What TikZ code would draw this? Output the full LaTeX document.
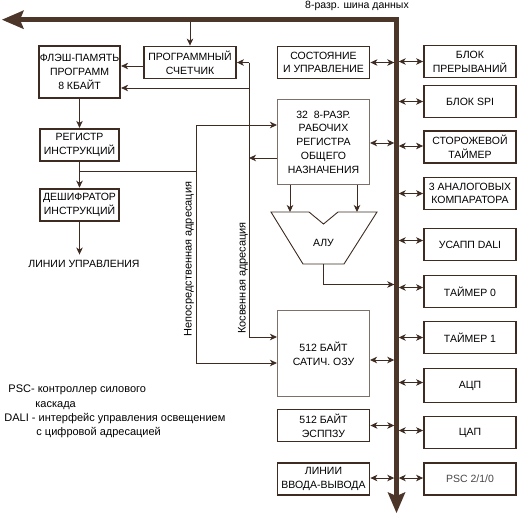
\documentclass[tikz,border=0pt]{standalone}
\usepackage{fontspec}
\setmainfont{Liberation Sans}
\usepackage{tikz}
\usetikzlibrary{arrows,arrows.meta,positioning,calc}
\definecolor{wire}{RGB}{62,44,34}
\definecolor{busline}{RGB}{76,54,42}
\definecolor{thinframe}{RGB}{125,112,106}
\tikzset{
  every picture/.style = {
    x = 1pt,
    y = -1pt,
    line width = 0.9pt,
    color = wire,
    text = black,
    >={Stealth[length=7pt,width=6.5pt,inset=2pt]},
    font = \fontsize{10.5}{13.7}\selectfont
  }
  ,
  block/.style = {
    rectangle,
    draw = wire,
    line width = 1.8pt,
    align = center,
    inner sep = 1pt,
    minimum width = 92pt,
    minimum height = 32pt
  }
  , % frame of the register file and of the ram
  thinblock/.style = {
    block,
    draw = thinframe,
    line width = 1.1pt
  }
  , % left column
  leftblock/.style = {
    block,
    minimum width = 79pt
  }
  , % the 8-bit data bus
  bus/.style = {
    draw = busline,
    line width = 4.5pt,
    line join = miter
  }
  ,
  label-vert/.style = {
    rotate = 90,
    inner sep = 0pt,
    font = \fontsize{11}{13}\selectfont
  }
}

\begin{document}
\begin{tikzpicture}
    \useasboundingbox (0,0) rectangle (522,517);

    % bus
    \coordinate (busL) at (394.3,0);
    \coordinate (busR) at (398.7,0);
    \coordinate (busT) at (0,22);
    \draw[bus, {Stealth[length=22pt,width=19pt,inset=4pt,line width=0pt]}-{Stealth[length=21pt,width=18pt,inset=4pt,line width=0pt]}]
        (2,19.7) -- (396.5,19.7) -- (396.5,513);
    \node (busname) at (357,6) {8-разр. шина данных};

    % left column
    \node [leftblock, minimum height = 52pt] (flash) at (79.5,72) {ФЛЭШ-ПАМЯТЬ\\ПРОГРАММ\\8 КБАЙТ};
    \node [leftblock, below = 29pt of flash] (ri) {РЕГИСТР\\ИНСТРУКЦИЙ};
    \node [leftblock, below = 26pt of ri] (dec) {ДЕШИФРАТОР\\ИНСТРУКЦИЙ};
    \node (lines) at (84,264) {ЛИНИИ УПРАВЛЕНИЯ};
    \node [block] (cnt) at (190,62.5) {ПРОГРАММНЫЙ\\СЧЕТЧИК};

    % middle column
    \node [block] (stat) at (323.5,62.5) {СОСТОЯНИЕ\\И УПРАВЛЕНИЕ};
    \node [thinblock, minimum height = 85pt] (rf) at (323.5,142) {32~ 8-РАЗР.\\РАБОЧИХ\\РЕГИСТРА\\ОБЩЕГО\\НАЗНАЧЕНИЯ};
    \node [thinblock, minimum height = 86pt] (ram) at (323.5,353.5) {512 БАЙТ\\САТИЧ. ОЗУ};
    \node [block] (eep) at (323.5,425.5) {512 БАЙТ\\ЭСППЗУ};
    \node [block] (io) at (323.5,479) {ЛИНИИ\\ВВОДА-ВЫВОДА};

    % alu
    \draw (271,212) -- (309,212) -- (323.5,224) -- (338,212) -- (377,212)
        -- (344,264) -- (303,264) -- cycle;
    \node (alu) at (323.5,243) {АЛУ};

    % right column
    \node [block] (irq) at (470,61.5) {БЛОК\\ПРЕРЫВАНИЙ};
    \node [block] (spi) at (470,101.5) {БЛОК SPI};
    \node [block] (wdt) at (470,147) {СТОРОЖЕВОЙ\\ТАЙМЕР};
    \node [block] (acmp) at (470,193.5) {3 АНАЛОГОВЫХ\\КОМПАРАТОРА};
    \node [block] (dali) at (470,244.5) {УСАПП DALI};
    \node [block] (tm0) at (470,291.5) {ТАЙМЕР 0};
    \node [block] (tm1) at (470,337.5) {ТАЙМЕР 1};
    \node [block, minimum height = 34pt] (adc) at (470,385.5) {АЦП};
    \node [block] (dac) at (470,432.5) {ЦАП};
    \node [block, text = black!72] (psc) at (470,479) {PSC 2/1/0};

    % program path
    \draw[->] (cnt.north |- busT) -- (cnt.north);
    \coordinate (cntout) at ([yshift=-3.5pt]cnt.west);
    \draw[->] (cntout) -- (cntout -| flash.east);
    \draw[->] (flash) -- (ri);
    \draw[->] (ri) -- (dec);
    \draw[->] (dec.south) -- ([yshift=2pt]dec.south |- lines.north);

    % indirect addressing
    \coordinate (kos) at (249,0);
    \coordinate (rfout) at ([yshift=-16pt]rf.west);
    \coordinate (flin) at ([yshift=-16pt]flash.east);
    \coordinate (ramk) at ([yshift=16.5pt]ram.west);
    \draw[->] (rfout) -- (rfout -| kos);
    \draw[->] (cnt.east -| kos) -- (cnt.east);
    \draw[->] (flin -| kos) -- (flin);
    \draw[->] (cnt.east -| kos) |- (ramk);
    \node [label-vert] (kosl) at (243,278) {Косвенная адресация};

    % direct addressing
    \coordinate (nep) at (196,0);
    \coordinate (br) at ($(ri.south)!0.36!(dec.north)$);
    \coordinate (rfin) at ([yshift=17pt]rf.west);
    \coordinate (ramn) at ([yshift=-9.5pt]ram.west);
    \draw[->] (br) -| (nep |- rfin) -- (rfin);
    \draw[->] (br -| nep) |- (ramn);
    \node [label-vert] (nepl) at (189,259) {Непосредственная адресация};

    % register file to alu and alu to bus
    \coordinate (alutop) at (0,212);
    \coordinate (rfa) at ([xshift=-33.5pt]rf.south);
    \coordinate (rfb) at ([xshift=33.5pt]rf.south);
    \draw[->] (rfa) -- (rfa |- alutop);
    \draw[->] (rfb) -- (rfb |- alutop);
    \coordinate (aluout) at (323.5,264);
    \coordinate (alubus) at (0,284.5);
    \draw[->] (aluout) |- (alubus -| busL);

    % bus links
    \foreach \n/\d in {stat/0,rf/-1,ram/-6.5,eep/0,io/1}
    {
        \coordinate (p) at ([yshift=\d pt]\n.east);
        \draw[<->] (p) -- (p -| busL);
    }
    \foreach \n/\d in {irq/0,spi/0,wdt/1,acmp/0,dali/4,tm0/4,tm1/0,adc/3,dac/2,psc/1}
    {
        \coordinate (p) at ([yshift=\d pt]\n.west);
        \draw[<->] (p -| busR) -- (p);
    }

    % legend
    \node [align = left, anchor = west, inner sep = 0pt, font = \fontsize{11}{14.3}\selectfont] (legend) at (4,411.5)
        {\hspace*{4pt}PSC- контроллер силового\\
         \hspace*{31pt}каскада\\
         DALI - интерфейс управления освещением\\
         \hspace*{32pt}с цифровой адресацией};
\end{tikzpicture}
\end{document}
